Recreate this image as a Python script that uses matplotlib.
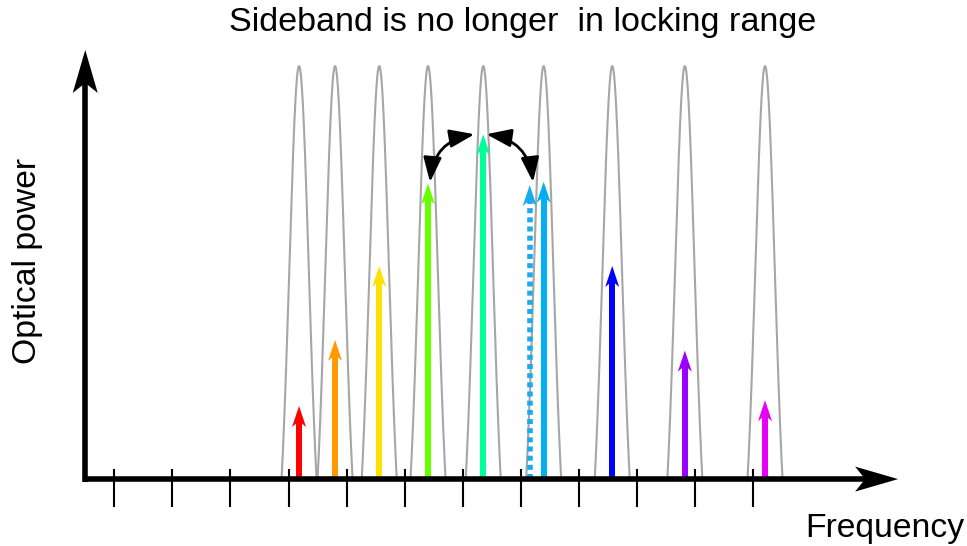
import numpy as np
import matplotlib.pyplot as plt
from matplotlib.patches import Polygon, FancyArrowPatch
from matplotlib.transforms import ScaledTranslation

plt.rcParams['font.family'] = ['Liberation Sans', 'DejaVu Sans']

# comb lines: frequency (in tick units) and relative optical power
line_freq = [4.18, 4.80, 5.56, 6.40, 7.35, 8.39, 9.57, 10.82, 12.20]
line_power = [0.177, 0.337, 0.516, 0.716, 0.835, 0.720, 0.516, 0.311, 0.191]
line_colors = ['#ff0000', '#ff9900', '#ffe100', '#66ff00', '#00ff99',
               '#00b0f0', '#0000ff', '#9900ff', '#e600f5']

# filter passbands sit on the comb lines
filter_freq = line_freq
filter_sigma = 0.168
filter_floor = 0.2

# sideband that drifted away from its passband
drift_freq = 8.15
drift_power = 0.712
drift_color = '#1aaaf0'

tick_pos = list(range(1, 13))

fig = plt.figure(figsize=(9.67, 5.46), dpi=100)
ax = fig.add_axes([0, 0, 1, 1])
ax.set_xlim(-0.967, 15.676)
ax.set_ylim(-0.162, 1.160)
ax.axis('off')

# pixels per data unit
p0 = ax.transData.transform((0, 0))
p1 = ax.transData.transform((1, 1))
sx, sy = p1 - p0


def head(x, y, color, length, width, notch, angle=90, z=5):
    pts = np.array([[0, 0], [-length, width / 2], [-length + notch, 0],
                    [-length, -width / 2]])
    a = np.deg2rad(angle)
    rot = np.array([[np.cos(a), -np.sin(a)], [np.sin(a), np.cos(a)]])
    pts = pts @ rot.T
    tr = ScaledTranslation(x, y, ax.transData)
    ax.add_patch(Polygon(pts, closed=True, color=color, lw=0,
                         transform=tr, zorder=z))


# filter passbands
for c in filter_freq:
    f = np.linspace(c - 0.35, c + 0.35, 400)
    p = (np.exp(-(f - c) ** 2 / (2 * filter_sigma ** 2)) - filter_floor) / (1 - filter_floor)
    p = np.where(p >= -0.004, p, np.nan)
    ax.plot(f, p, color='#a6a6a6', lw=1.5, zorder=2)

# comb lines as arrows
L, W, N = 21, 14, 6
for f, p, col in zip(line_freq, line_power, line_colors):
    ax.plot([f, f], [0, p - (L - N) / sy], color=col, lw=4.3,
            solid_capstyle='butt', zorder=4)
    head(f, p, col, L, W, N)

# drifted sideband
ax.plot([drift_freq, drift_freq], [0, drift_power - (L - N) / sy],
        color=drift_color, lw=4.0, linestyle=(0, (0.9, 0.75)),
        dash_capstyle='butt', zorder=4)
head(drift_freq, drift_power, drift_color, L, W, N)

# coupling between neighbouring lines
for a, b in [((6.434, 0.719), (7.200, 0.835)), ((7.405, 0.835), (8.207, 0.719))]:
    ax.add_patch(FancyArrowPatch(a, b, connectionstyle='arc3,rad=-0.38',
                                 arrowstyle='<|-|>,head_length=1.5,head_width=0.55',
                                 mutation_scale=10, lw=2.0, color='black',
                                 shrinkA=0, shrinkB=0, zorder=6))

# axes with arrowheads
x0, y_end = 0.5, 1.039
x_end = 14.49
AL, AW, AN = 43, 25, 10
ax.plot([x0, x0], [-0.006, y_end - (AL - AN) / sy], color='black', lw=4.0,
        solid_capstyle='butt', zorder=7)
head(x0, y_end, 'black', AL, AW, AN, angle=90, z=7)
ax.plot([0.456, x_end - (AL - AN) / sx], [0, 0], color='black', lw=4.0,
        solid_capstyle='butt', zorder=7)
head(x_end, 0, 'black', AL, AW, AN, angle=0, z=7)
ax.vlines(tick_pos, -0.068, 0.024, color='black', lw=1.5, zorder=7)

fig.text(523 / 967, 1 - 22 / 546, 'Sideband is no longer  in locking range',
         fontsize=24.6, ha='center', va='center')
fig.text(28 / 967, 1 - 261 / 546, 'Optical power', fontsize=24.3,
         rotation=90, ha='center', va='center')
fig.text(885 / 967, 1 - 528 / 546, 'Frequency', fontsize=24.3,
         ha='center', va='center')

fig.savefig('out.png', dpi=100)
